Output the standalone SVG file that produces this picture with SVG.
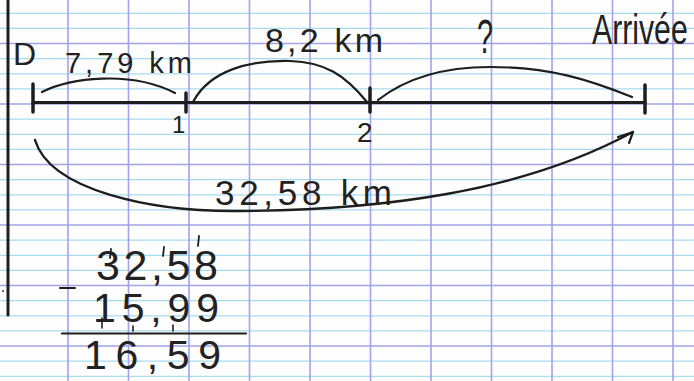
<svg xmlns="http://www.w3.org/2000/svg" width="694" height="381" viewBox="0 0 694 381">
<style>
.cy{stroke:#a6dcef;stroke-width:1.2;fill:none}
.pu{stroke:#a3a3e6;stroke-width:1.6;fill:none}
.ink{stroke:#1e1e1e;fill:none;stroke-linecap:round;stroke-linejoin:round}
.t{font-family:"Liberation Sans","DejaVu Sans",sans-serif;fill:#222}
</style>
<rect width="694" height="381" fill="#fefefe"/>
<g id="grid">
<path class="cy" d="M0,13.3H694M0,28.4H694M0,58.6H694M0,73.8H694M0,88.9H694M0,119.1H694M0,134.3H694M0,149.4H694M0,179.6H694M0,194.8H694M0,209.9H694M0,240.1H694M0,255.3H694M0,270.4H694M0,300.6H694M0,315.8H694M0,330.9H694M0,361.1H694M0,376.3H694"/>
<path class="pu" d="M0,43.5H694M0,104H694M0,164.5H694M0,225H694M0,285.5H694M0,346H694"/>
<path class="pu" d="M68,0V381M128.5,0V381M189,0V381M249.5,0V381M310,0V381M370.5,0V381M431,0V381M491.5,0V381M552,0V381M612.5,0V381M673,0V381"/>
</g>
<g id="margin">
<path class="ink" stroke-width="3" d="M8,0V315"/>
<circle cx="3" cy="291" r="1" fill="#333"/>
</g>
<g id="number-line">
<path class="ink" stroke-width="3.2" d="M33,102.5H645"/>
</g>
<g id="node-D">
<path class="ink" stroke-width="3.5" d="M33,84V112"/>
<text class="t" x="13" y="65" font-size="32">D</text>
</g>
<g id="node-1">
<path class="ink" stroke-width="3.5" d="M186,93V112"/>
<text class="t" x="172" y="133" font-size="24">1</text>
</g>
<g id="node-2">
<path class="ink" stroke-width="3.5" d="M370,88V112"/>
<text class="t" x="357" y="142" font-size="28">2</text>
</g>
<g id="node-arrivee">
<path class="ink" stroke-width="3.5" d="M645,85V113"/>
<text class="t" transform="translate(592,44) scale(0.72,1)" font-size="42">Arrivée</text>
</g>
<g id="connectors">
<path class="ink" stroke-width="2.2" d="M42,92C70,78 130,70 175,93"/>
<path class="ink" stroke-width="2.2" d="M193,102C210,70 250,60 290,61C325,62 345,75 367,102"/>
<path class="ink" stroke-width="2.2" d="M378,100C410,75 450,67 490,67C550,67 590,80 632,97"/>
<path class="ink" stroke-width="2.4" d="M35,140C50,190 150,212 240,211C380,210 520,193 633,132"/>
<path class="ink" stroke-width="2.2" d="M618,137L633,132L629,143"/>
</g>
<g id="labels">
<text class="t" x="65" y="73" font-size="29" textLength="127" lengthAdjust="spacing">7,79 km</text>
<text class="t" x="265" y="52" font-size="34" textLength="118" lengthAdjust="spacing">8,2 km</text>
<text class="t" x="477" y="53" font-size="48" textLength="16" lengthAdjust="spacingAndGlyphs">?</text>
<text class="t" x="215" y="205" font-size="35" textLength="177" lengthAdjust="spacing">32,58 km</text>
</g>
<g id="calculation">
<text class="t" x="96" y="280" font-size="43" textLength="122" lengthAdjust="spacing">32,58</text>
<path class="ink" stroke-width="1.8" d="M111,249L110,258M164,247L163,256M199,236L198,246"/>
<path class="ink" stroke-width="2" d="M60,288H75"/>
<text class="t" x="93" y="322" font-size="41" textLength="126" lengthAdjust="spacing">15,99</text>
<path class="ink" stroke-width="1.6" d="M102,318L102,328M133,326L133,331M173,325L173,331"/>
<path class="ink" stroke-width="2.2" d="M62,333.5H246"/>
<text class="t" x="84" y="369" font-size="41" textLength="137" lengthAdjust="spacing">16,59</text>
</g>
</svg>
